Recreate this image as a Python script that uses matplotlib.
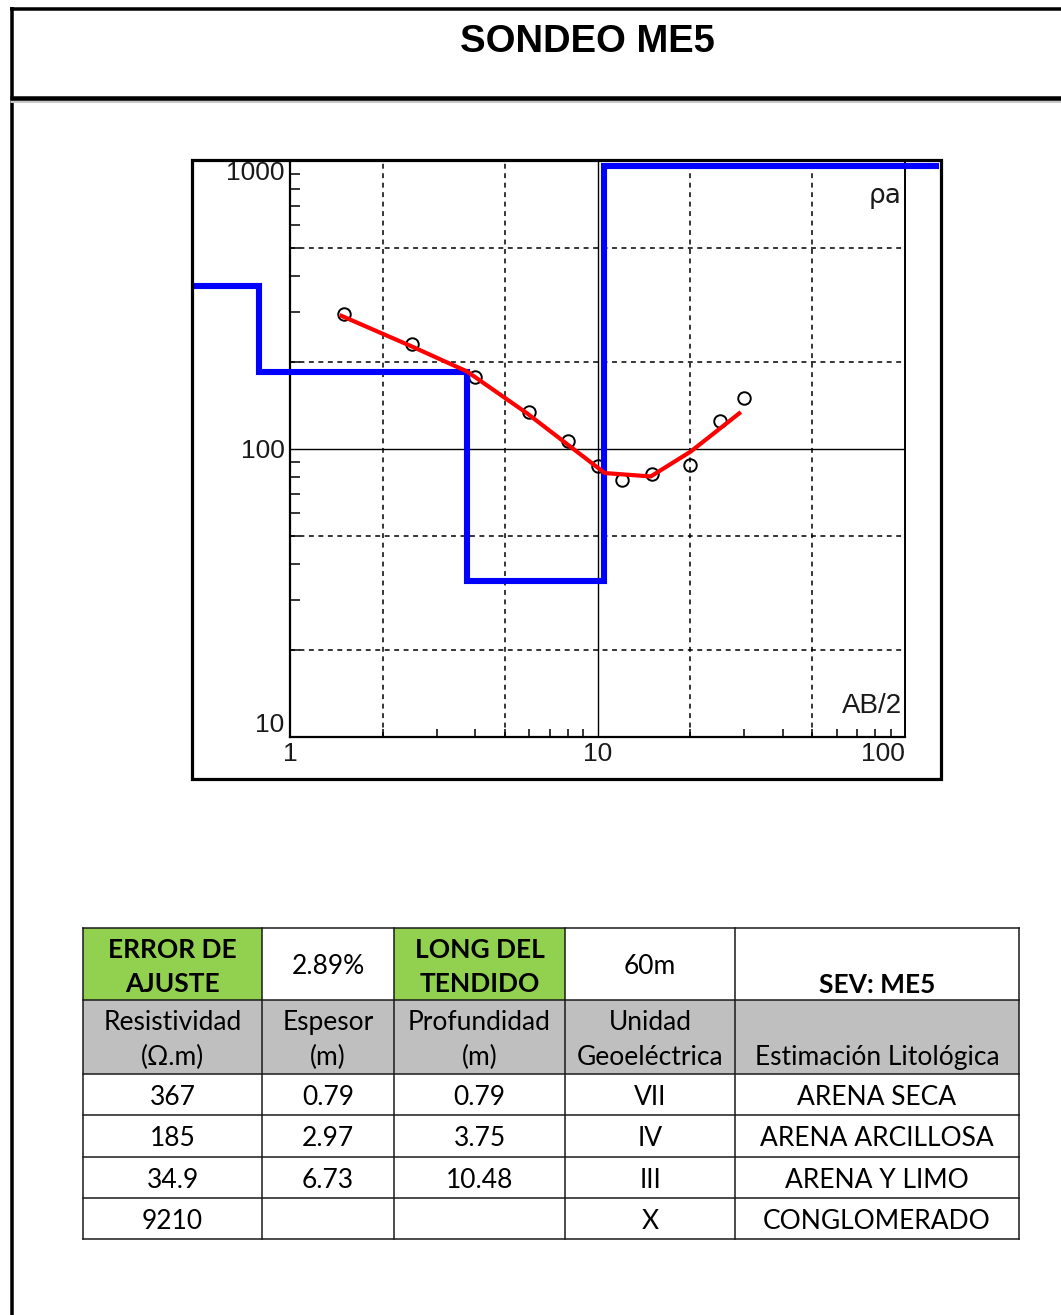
import numpy as np
import matplotlib
matplotlib.use("Agg")
import matplotlib.pyplot as plt
from matplotlib.patches import Rectangle
from matplotlib.ticker import FixedLocator, NullFormatter

# ---------------- data ----------------
ab2 = [1.5, 2.5, 4, 6, 8, 10, 12, 15, 20, 25, 30]
rho_obs = [295, 232, 178, 134, 107, 87.5, 78, 82, 88, 125, 150]
fit_ab2 = [1.47, 2.49, 3.76, 5.9, 7.87, 10.56, 14.9, 20.1, 28.9]
fit_rho = [290, 227, 186, 133, 105, 82.5, 80.3, 98, 133]
layer_rho = [367, 185, 34.9, 9210]
layer_thick = [0.79, 2.97, 6.73]
layer_depth = [0.79, 3.75, 10.48]
unidad = ["VII", "IV", "III", "X"]
litologia = ["ARENA SECA", "ARENA ARCILLOSA", "ARENA Y LIMO", "CONGLOMERADO"]
error_ajuste = "2.89%"
long_tendido = "60m"
sev_name = "ME5"
x_ticks = [1, 10, 100]
x_ticklabels = ["1", "10", "100"]
y_ticks = [10, 100, 1000]
y_ticklabels = ["10", "100", "1000"]

W, H = 1061, 1315
PT = 0.72  # points per pixel at dpi 100

fig = plt.figure(figsize=(W / 100, H / 100), dpi=100)
fig.patch.set_facecolor("white")

bg = fig.add_axes([0, 0, 1, 1])
bg.set_xlim(0, W)
bg.set_ylim(H, 0)
bg.axis("off")

# page borders
bg.plot([11.5, 11.5], [7, H], color="black", lw=3.5 * PT, solid_capstyle="butt")
bg.plot([10, W], [9, 9], color="black", lw=3.5 * PT, solid_capstyle="butt")
bg.plot([10, W], [101, 101], color="#c8c8c8", lw=3 * PT, solid_capstyle="butt")
bg.plot([10, W], [97.5, 97.5], color="black", lw=4.5 * PT, solid_capstyle="butt")

bg.text(587, 42, "SONDEO " + sev_name, ha="center", va="center", fontsize=27.5,
        weight="bold", family="Liberation Sans")

# chart frame
bg.add_patch(Rectangle((192, 160), 748.5, 618.5, fill=False, ec="black",
                       lw=3.2 * PT, zorder=10))
clip_rect = Rectangle((194, 162), 744.5, 614.5, transform=bg.transData)

# ---------------- chart ----------------
ax = fig.add_axes([290 / W, 1 - 737 / H, 615 / W, 576 / H])
ax.patch.set_alpha(0)
ax.set_xscale("log")
ax.set_yscale("log")
ax.set_xlim(1, 100)
ax.set_ylim(10, 1000)

for gx in [2, 5, 20, 50]:
    ax.axvline(gx, color="black", lw=1.1, ls=(0, (3.2, 3.0)), zorder=1)
for gy in [20, 50, 200, 500]:
    ax.axhline(gy, color="black", lw=1.1, ls=(0, (3.2, 3.0)), zorder=1)
ax.axvline(10, color="black", lw=1.0, zorder=1)
ax.axhline(100, color="black", lw=1.0, zorder=1)

# layered model (blue), clamped to the top of the display
top = ax.get_ylim()[1] * 0.96
xs = [0.3]
ys = [layer_rho[0]]
for d, r0, r1 in zip(layer_depth, layer_rho[:-1], layer_rho[1:]):
    xs += [d, d]
    ys += [min(r0, top), min(r1, top)]
xs.append(1000)
ys.append(min(layer_rho[-1], top))
(blue,) = ax.plot(xs, ys, color="#0000ff", lw=4.4, solid_joinstyle="miter",
                  zorder=3)
blue.set_clip_path(clip_rect)

ax.plot(ab2, rho_obs, "o", mfc="none", mec="black", ms=9, mew=1.4, zorder=2.5)
ax.plot(fit_ab2, fit_rho, color="#ff0000", lw=3.0, zorder=4)

# axes styling
for s in ["left", "bottom"]:
    ax.spines[s].set_linewidth(1.6)
ax.spines["right"].set_linewidth(1.4)
ax.spines["top"].set_visible(False)

ax.xaxis.set_major_locator(FixedLocator(x_ticks))
ax.set_xticklabels(x_ticklabels)
ax.xaxis.set_minor_locator(FixedLocator([2, 3, 4, 5, 6, 7, 8, 9,
                                         20, 30, 40, 50, 60, 70, 80, 90]))
ax.xaxis.set_minor_formatter(NullFormatter())
ax.yaxis.set_major_locator(FixedLocator(y_ticks))
ax.set_yticklabels(y_ticklabels)
ax.yaxis.set_minor_locator(FixedLocator([20, 30, 40, 50, 60, 70, 80, 90,
                                         200, 300, 400, 500, 600, 700, 800, 900]))
ax.yaxis.set_minor_formatter(NullFormatter())

ax.tick_params(which="major", length=0, labelsize=19, labelcolor="#1a1a1a")
ax.tick_params(axis="x", which="major", pad=3.5)
ax.tick_params(axis="y", which="major", pad=4)
ax.tick_params(axis="x", which="minor", direction="in", length=5.8, width=1.1)
ax.tick_params(axis="y", which="minor", direction="in", length=7.2, width=1.1)
for lab in ax.get_xticklabels() + ax.get_yticklabels():
    lab.set_family("Liberation Sans")
ylabs = ax.get_yticklabels()
ylabs[0].set_va("bottom")
ylabs[1].set_va("center_baseline")
ylabs[2].set_va("top")
xlabs = ax.get_xticklabels()
xlabs[2].set_ha("right")

ax.text(0.995, 0.94, "ρa", transform=ax.transAxes, ha="right", va="center",
        fontsize=19, family="DejaVu Sans", color="#1a1a1a")
ax.text(0.995, 0.042, "AB/2", transform=ax.transAxes, ha="right", va="baseline",
        fontsize=20, family="Liberation Sans", color="#1a1a1a")

# ---------------- table ----------------
cols = [83, 262, 394, 565, 735, 1019]
rows = [928, 1000, 1074, 1115, 1157, 1198, 1239]
GREEN = "#92d050"
GRAY = "#bfbfbf"
tfont = "Lato"
fs = 19

for c in (0, 2):
    bg.add_patch(Rectangle((cols[c], rows[0]), cols[c + 1] - cols[c],
                           rows[1] - rows[0], fc=GREEN, ec="none"))
bg.add_patch(Rectangle((cols[0], rows[1]), cols[-1] - cols[0],
                       rows[2] - rows[1], fc=GRAY, ec="none"))
for y in rows:
    bg.plot([cols[0], cols[-1]], [y, y], color="#1a1a1a", lw=1.1, solid_capstyle="projecting")
for x in cols:
    bg.plot([x, x], [rows[0], rows[-1]], color="#1a1a1a", lw=1.1, solid_capstyle="projecting")

cx = [(a + b) / 2 for a, b in zip(cols[:-1], cols[1:])]

def cell(col, y, s, bold=False):
    bg.text(cx[col], y, s, ha="center", va="center", fontsize=fs,
            family=tfont, weight="bold" if bold else "normal",
            linespacing=1.52, color="black")

cell(0, 967, "ERROR DE\nAJUSTE", True)
cell(1, 966, error_ajuste)
cell(2, 967, "LONG DEL\nTENDIDO", True)
cell(3, 966, long_tendido)
cell(4, 985, "SEV: " + sev_name, True)

cell(0, 1040, "Resistividad\n(Ω.m)")
cell(1, 1040, "Espesor\n(m)")
cell(2, 1040, "Profundidad\n(m)")
cell(3, 1040, "Unidad\nGeoeléctrica")
cell(4, 1058, "Estimación Litológica")

espesor = [f"{v:g}" for v in layer_thick] + [""]
profundidad = [f"{v:g}" for v in layer_depth] + [""]
for i in range(4):
    yc = (rows[2 + i] + rows[3 + i]) / 2 + 3
    cell(0, yc, f"{layer_rho[i]:g}")
    cell(1, yc, espesor[i])
    cell(2, yc, profundidad[i])
    cell(3, yc, unidad[i])
    cell(4, yc, litologia[i])

fig.savefig("out.png", dpi=100)
